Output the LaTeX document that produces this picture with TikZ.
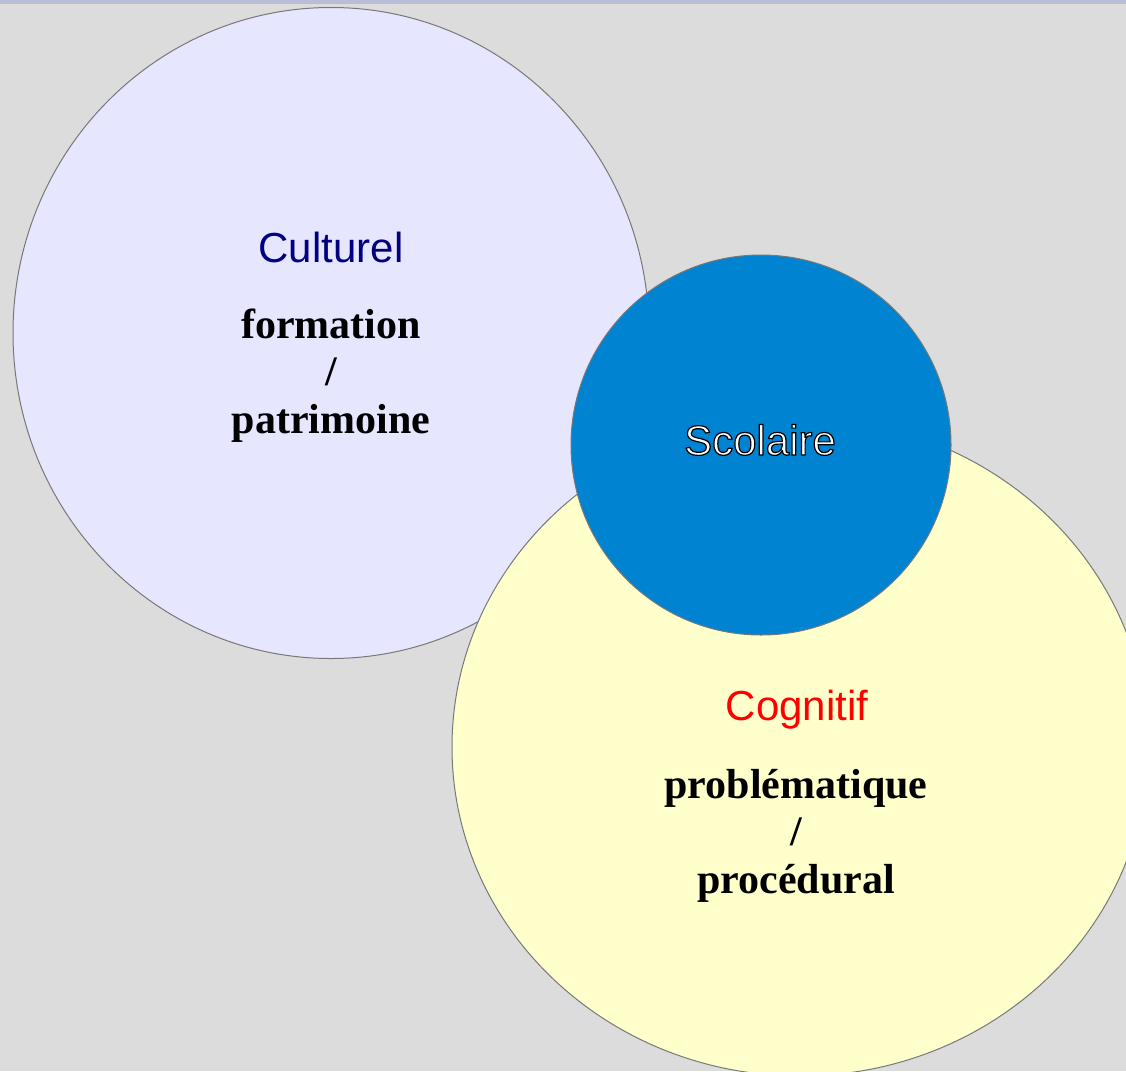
\documentclass[tikz,border=0pt]{standalone}
\usepackage{fontspec}
\setmainfont{Liberation Serif}
\newfontfamily\sansf{Liberation Sans}
\usetikzlibrary{shapes.geometric}
\definecolor{bgc}{RGB}{220,220,220}
\definecolor{stripc}{RGB}{185,189,216}
\definecolor{lavc}{RGB}{230,230,255}
\definecolor{yelc}{RGB}{255,255,204}
\definecolor{bluec}{RGB}{0,131,208}
\definecolor{edgec}{RGB}{120,120,120}
\definecolor{navyc}{RGB}{0,0,128}
\tikzset{
  bubble/.style={ellipse, draw=edgec, line width=0.75pt, inner sep=0pt},
  title/.style={font=\sansf\fontsize{31.5}{36}\selectfont, anchor=base},
  body/.style={font=\bfseries\fontsize{31.5}{36}\selectfont, anchor=base, text=black}
}
\begin{document}
\begin{tikzpicture}[x=0.75pt,y=-0.75pt]
\useasboundingbox (0,0) rectangle (1126,1071);
\clip (0,0) rectangle (1126,1071);
\fill[bgc] (0,0) rectangle (1126,1071);
\fill[stripc] (0,0) rectangle (1126,4);
\node[bubble, fill=lavc, minimum width=477pt, minimum height=488.25pt] (cult) at (331,333) {};
\node[bubble, fill=yelc, minimum width=522pt, minimum height=493.5pt] (cogn) at (800,747) {};
\node[bubble, fill=bluec, minimum width=285pt, minimum height=285pt] (scol) at (761,445) {};
\node[title, text=navyc] (culttitle) at (331,262) {Culturel};
\node[body] (cult1) at (331,338) {formation};
\node[body] (cult2) at (331,385) {/};
\node[body] (cult3) at (331,433) {patrimoine};
\node[title, text=red] (cogntitle) at (797,720) {Cognitif};
\node[body] (cogn1) at (796,798) {problématique};
\node[body] (cogn2) at (796,845) {/};
\node[body] (cogn3) at (796,893) {procédural};
\node[title, text=white] (scoltitle) at (760,455) {\special{pdf:literal direct 2 Tr 0 G 0.9 w}Scolaire\special{pdf:literal direct 0 Tr 0.75 w}};
\end{tikzpicture}
\end{document}
